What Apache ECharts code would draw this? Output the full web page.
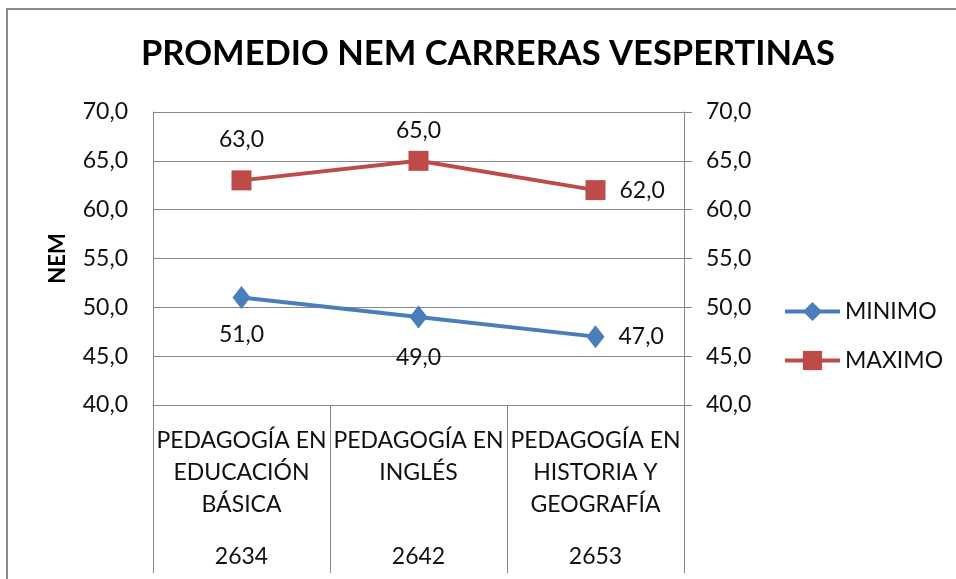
<!DOCTYPE html>
<html>
<head>
<meta charset="utf-8">
<script src="https://cdn.jsdelivr.net/npm/echarts@6/dist/echarts.min.js"></script>
<style>
  html, body { margin: 0; padding: 0; background: #fff; }
  #chart { width: 956px; height: 579px; }
</style>
</head>
<body>
<div id="chart"></div>
<script>
// Carreras vespertinas: nombres, códigos y puntajes NEM
const carreras = ['PEDAGOGÍA EN\nEDUCACIÓN\nBÁSICA', 'PEDAGOGÍA EN\nINGLÉS', 'PEDAGOGÍA EN\nHISTORIA Y\nGEOGRAFÍA'];
const codigos = ['2634', '2642', '2653'];
const minimo = [51, 49, 47];
const maximo = [63, 65, 62];
const yTicks = { min: 40, max: 70, step: 5 };

const FONT = 'Lato, "Open Sans", sans-serif';
const TXT = '#111';
const GRAY = '#878787';
const fmt = v => v.toFixed(1).replace('.', ',');

// placement of each value label (per point)
const maxLabelPos = [
  { position: 'top', distance: 19 },
  { position: 'top', distance: 9 },
  { position: 'right', distance: 14 }
];
const minLabelPos = [
  { position: 'bottom', distance: 14 },
  { position: 'bottom', distance: 17 },
  { position: 'right', distance: 14 }
];

const labelBase = { show: true, fontFamily: FONT, fontSize: 23, color: TXT, formatter: p => fmt(p.value) };

const chart = echarts.init(document.getElementById('chart'), null, { renderer: 'canvas' });
chart.setOption({
  animation: false,
  backgroundColor: '#fff',
  title: {
    text: 'PROMEDIO NEM CARRERAS VESPERTINAS',
    left: 141,
    top: 36,
    padding: 0,
    textStyle: { fontFamily: FONT, fontSize: 34.5, fontWeight: 'bold', color: '#000' }
  },
  graphic: [{
    type: 'rect',
    shape: { x: 7, y: 9, width: 960, height: 580 },
    style: { fill: 'none', stroke: '#8a8a8a', lineWidth: 2 },
    silent: true
  }],
  legend: {
    orient: 'vertical',
    left: 783,
    top: 300,
    padding: 0,
    itemWidth: 55,
    itemHeight: 24,
    itemGap: 26,
    lineStyle: { width: 4 },
    textStyle: { fontFamily: FONT, fontSize: 23, color: TXT },
    data: ['MINIMO', 'MAXIMO']
  },
  grid: { left: 153, right: 272, top: 112, bottom: 174 },
  xAxis: [{
    type: 'category',
    data: carreras,
    boundaryGap: true,
    axisLine: { show: true, lineStyle: { color: GRAY, width: 1 } },
    axisTick: { show: true, length: 168, lineStyle: { color: GRAY, width: 1 } },
    axisLabel: { interval: 0, margin: 20, fontFamily: FONT, fontSize: 23, lineHeight: 32, color: TXT, align: 'center' },
    splitLine: { show: false }
  }, {
    type: 'category',
    data: codigos,
    position: 'bottom',
    boundaryGap: true,
    axisLine: { show: false },
    axisTick: { show: false },
    axisLabel: { interval: 0, margin: 136, fontFamily: FONT, fontSize: 23, lineHeight: 32, color: TXT }
  }],
  yAxis: [{
    type: 'value',
    min: yTicks.min, max: yTicks.max, interval: yTicks.step,
    name: 'NEM',
    nameLocation: 'middle',
    nameGap: 84,
    nameRotate: 90,
    nameTextStyle: { fontFamily: FONT, fontSize: 22, fontWeight: 'bold', color: '#000' },
    axisLine: { show: true, lineStyle: { color: GRAY, width: 1 } },
    axisTick: { show: false },
    axisLabel: { margin: 25, fontFamily: FONT, fontSize: 23, color: TXT, formatter: fmt },
    splitLine: { show: true, lineStyle: { color: GRAY, width: 1 } }
  }, {
    type: 'value',
    position: 'right',
    min: yTicks.min, max: yTicks.max, interval: yTicks.step,
    axisLine: { show: true, lineStyle: { color: GRAY, width: 1 } },
    axisTick: { show: true, inside: false, length: 8, lineStyle: { color: GRAY, width: 1 } },
    axisLabel: { margin: 22, fontFamily: FONT, fontSize: 23, color: TXT, formatter: fmt },
    splitLine: { show: false }
  }],
  series: [{
    name: 'MINIMO',
    type: 'line',
    data: minimo.map((v, i) => ({ value: v, label: Object.assign({}, labelBase, minLabelPos[i]) })),
    symbol: 'diamond',
    symbolSize: [18, 23],
    color: '#4A7EBB',
    lineStyle: { width: 4, color: '#4A7EBB' },
    itemStyle: { color: '#4A7EBB' },
    label: labelBase,
    z: 3
  }, {
    name: 'MAXIMO',
    type: 'line',
    data: maximo.map((v, i) => ({ value: v, label: Object.assign({}, labelBase, maxLabelPos[i]) })),
    symbol: 'rect',
    symbolSize: 20,
    color: '#BE4B48',
    lineStyle: { width: 4, color: '#BE4B48' },
    itemStyle: { color: '#BE4B48' },
    label: labelBase,
    z: 3
  }]
});
</script>
</body>
</html>
